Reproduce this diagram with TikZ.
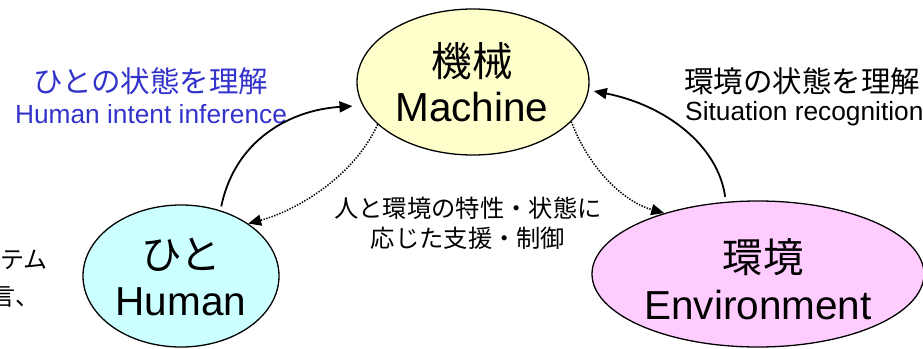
\documentclass[tikz,border=0pt]{standalone}
\usepackage{fontspec}
\setmainfont{Liberation Sans}
\newfontfamily\jp{Noto Sans CJK JP}
\usetikzlibrary{shapes.geometric,arrows.meta}
\definecolor{machfill}{RGB}{255,255,204}
\definecolor{humfill}{RGB}{204,255,255}
\definecolor{envfill}{RGB}{255,204,255}
\definecolor{lblblue}{RGB}{51,51,204}
\begin{document}
\begin{tikzpicture}[x=1pt,y=-1pt,
  blob/.style={ellipse,draw=black,line width=1.3pt,inner sep=0pt},
  bigjp/.style={inner sep=0pt,font=\jp\fontsize{40.5}{44}\selectfont},
  bigen/.style={inner sep=0pt,font=\fontsize{40.5}{44}\selectfont},
  bluejp/.style={inner sep=0pt,text=lblblue,font=\jp\fontsize{29.5}{32}\selectfont},
  blueen/.style={inner sep=0pt,text=lblblue,font=\fontsize{26.3}{30}\selectfont},
  blackjp/.style={inner sep=0pt,font=\jp\fontsize{29.5}{32}\selectfont},
  blacken/.style={inner sep=0pt,font=\fontsize{26.3}{30}\selectfont},
  midjp/.style={inner sep=0pt,font=\jp\fontsize{24.3}{30}\selectfont},
  sidejp/.style={inner sep=0pt,font=\jp\fontsize{24}{28}\selectfont},
  solidarrow/.style={line width=1.8pt,-{Triangle[length=13pt,width=11pt]}},
  dotarrow/.style={line width=1.5pt,dash pattern=on 1.4pt off 1.4pt,-{Triangle[length=13pt,width=11pt]}}
]
\useasboundingbox (0,0) rectangle (923,348);

% ellipses
\node[blob,fill=machfill,minimum width=232pt,minimum height=146pt] (mach) at (473,82) {};
\node[blob,fill=humfill,minimum width=196pt,minimum height=142pt] (hum) at (181,276) {};
\node[blob,fill=envfill,minimum width=332pt,minimum height=146pt] (env) at (758,274) {};

% ellipse texts
\node[bigjp] (machjp) at (472,61) {機械};
\node[bigen] (machen) at (472,107) {Machine};
\node[bigjp] (humjp) at (181,255) {ひと};
\node[bigen] (humen) at (181,302) {Human};
\node[bigjp] (envjp) at (763,257) {環境};
\node[bigen] (enven) at (758,305) {Environment};

% side labels
\node[bluejp] (hlbljp) at (151,81) {ひとの状態を理解};
\node[blueen] (hlblen) at (151,114) {Human intent inference};
\node[blackjp,anchor=west] (elbljp) at (684,81) {環境の状態を理解};
\node[blacken,anchor=west] (elblen) at (685,114) {Situation recognition};

% center label
\node[midjp] (ctr1) at (468,208) {人と環境の特性・状態に};
\node[midjp] (ctr2) at (468,238) {応じた支援・制御};

% left cut text
\node[sidejp,anchor=east] (left1) at (48,260) {テム};
\node[sidejp,anchor=east] (left2) at (40,297) {言、};

% connectors
\draw[solidarrow,shorten <=4pt,shorten >=10pt] (hum.59) .. controls (235,140) and (290,110) .. (mach.192);
\draw[solidarrow,shorten <=5pt,shorten >=5pt] (env.114) .. controls (718,145) and (665,105) .. (mach.-4);
\draw[dotarrow] (mach.204) .. controls (352,180) and (292,212) .. (hum.38);
\draw[dotarrow] (mach.-22) .. controls (592,175) and (628,203) .. (env.147);
\end{tikzpicture}
\end{document}
